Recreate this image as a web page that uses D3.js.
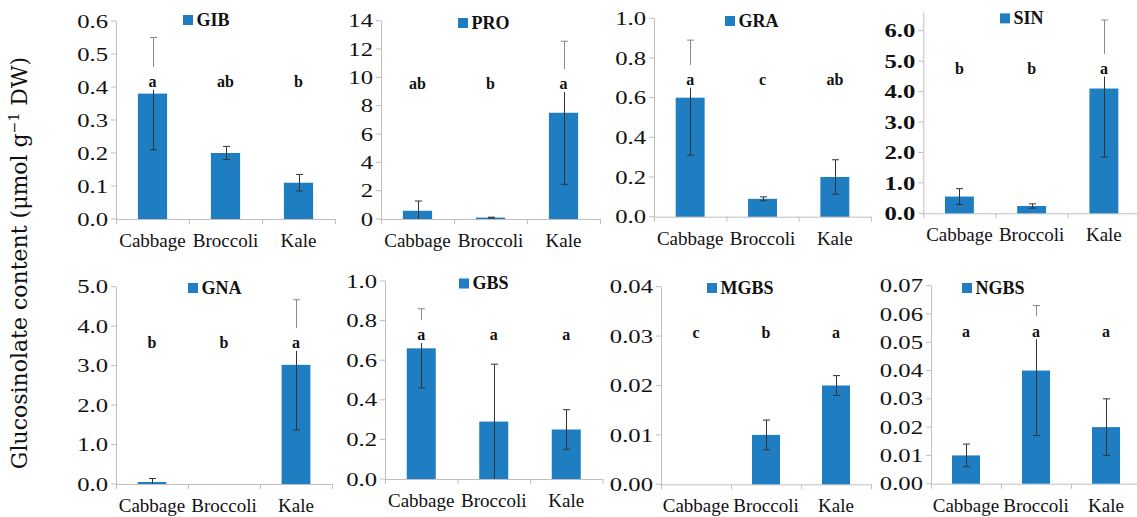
<!DOCTYPE html>
<html>
<head>
<meta charset="utf-8">
<script src="https://cdn.jsdelivr.net/npm/d3@7"></script>
<style>
  html, body { margin: 0; padding: 0; background: #fff; }
  svg { display: block; }
</style>
</head>
<body>
<svg id="chart" width="1137" height="517"></svg>
<script>
// ---------------- DATA ----------------
const categories = ["Cabbage", "Broccoli", "Kale"];
const panelNames = ["GIB", "PRO", "GRA", "SIN", "GNA", "GBS", "MGBS", "NGBS"];

const gibMeans = [0.38, 0.20, 0.11];
const gibErrors = [0.17, 0.02, 0.025];
const gibLetters = ["a", "ab", "b"];
const gibTicks = [0, 0.1, 0.2, 0.3, 0.4, 0.5, 0.6];

const proMeans = [0.58, 0.10, 7.5];
const proErrors = [0.69, 0.03, 5.05];
const proLetters = ["ab", "b", "a"];
const proTicks = [0, 2, 4, 6, 8, 10, 12, 14];

const graMeans = [0.60, 0.09, 0.20];
const graErrors = [0.29, 0.01, 0.087];
const graLetters = ["a", "c", "ab"];
const graTicks = [0, 0.2, 0.4, 0.6, 0.8, 1.0];

const sinMeans = [0.55, 0.24, 4.10];
const sinErrors = [0.26, 0.07, 2.25];
const sinLetters = ["b", "b", "a"];
const sinTicks = [0, 1, 2, 3, 4, 5, 6];

const gnaMeans = [0.05, 0, 3.02];
const gnaErrors = [0.09, 0, 1.65];
const gnaLetters = ["b", "b", "a"];
const gnaTicks = [0, 1, 2, 3, 4, 5];

const gbsMeans = [0.66, 0.29, 0.25];
const gbsErrors = [0.20, 0.29, 0.10];
const gbsLetters = ["a", "a", "a"];
const gbsTicks = [0, 0.2, 0.4, 0.6, 0.8, 1.0];

const mgbsMeans = [0, 0.010, 0.020];
const mgbsErrors = [0, 0.003, 0.002];
const mgbsLetters = ["c", "b", "a"];
const mgbsTicks = [0, 0.01, 0.02, 0.03, 0.04];

const ngbsMeans = [0.010, 0.040, 0.020];
const ngbsErrors = [0.004, 0.023, 0.010];
const ngbsLetters = ["a", "a", "a"];
const ngbsTicks = [0, 0.01, 0.02, 0.03, 0.04, 0.05, 0.06, 0.07];

// axis maxima and the level (in data units) at which the significance letters sit
const axisMax = [0.6, 14, 1.0, 6.6, 5, 1.0, 0.04, 0.07];
const letterLevels = [0.4, 9.16, 0.664, 4.58, 3.44, 0.70, 0.0297, 0.052];
const tickFormats = [".1f", "d", ".1f", ".1f", ".1f", ".1f", ".2f", ".2f"];

const yTitle = "Glucosinolate content (\u03bcmol g";
const yTitleSup = "\u22121";
const yTitleEnd = " DW)";

// ---------------- LAYOUT ----------------
const frames = [
  { x0: 116,   x1: 335,  y0: 219,   yTop: 21,    lx: 183,  ly: 15,   boldTicks: false },
  { x0: 381,   x1: 600,  y0: 219,   yTop: 20.7,  lx: 458,  ly: 18,   boldTicks: false },
  { x0: 654,   x1: 871,  y0: 216.7, yTop: 18.3,  lx: 725,  ly: 16,   boldTicks: false },
  { x0: 923.3, x1: 1140, y0: 213.3, yTop: 30.7,  lx: 1000, ly: 13.4, boldTicks: true },
  { x0: 116,   x1: 332,  y0: 484,   yTop: 286.7, lx: 188,  ly: 283,  boldTicks: false },
  { x0: 385,   x1: 602.5,y0: 479,   yTop: 281,   lx: 459,  ly: 278.5,boldTicks: false },
  { x0: 661,   x1: 871,  y0: 484.3, yTop: 286.7, lx: 707,  ly: 283,  boldTicks: false },
  { x0: 931,   x1: 1141, y0: 483.7, yTop: 285.7, lx: 962,  ly: 283,  boldTicks: false }
];

const panelData = [
  [gibMeans, gibErrors, gibLetters, gibTicks],
  [proMeans, proErrors, proLetters, proTicks],
  [graMeans, graErrors, graLetters, graTicks],
  [sinMeans, sinErrors, sinLetters, sinTicks],
  [gnaMeans, gnaErrors, gnaLetters, gnaTicks],
  [gbsMeans, gbsErrors, gbsLetters, gbsTicks],
  [mgbsMeans, mgbsErrors, mgbsLetters, mgbsTicks],
  [ngbsMeans, ngbsErrors, ngbsLetters, ngbsTicks]
];

const BAR = "#1f7dc1";
const AXIS = "#bfbfbf";
const SERIF = "'Liberation Serif', 'Times New Roman', serif";

const svg = d3.select("#chart");

panelNames.forEach((name, i) => {
  const f = frames[i];
  const [means, errs, letters, ticks] = panelData[i];
  const lastTick = ticks[ticks.length - 1];
  const y = d3.scaleLinear().domain([0, lastTick]).range([f.y0, f.yTop]);
  const x = d3.scaleBand().domain(categories).range([f.x0, f.x1])
    .paddingInner(0.6).paddingOuter(0.3);
  const step = x.step();
  const fmt = d3.format(tickFormats[i]);

  const g = svg.append("g");

  // y axis line
  g.append("line")
    .attr("x1", f.x0 + 0.5).attr("x2", f.x0 + 0.5)
    .attr("y1", y(0)).attr("y2", y(axisMax[i]))
    .attr("stroke", AXIS).attr("stroke-width", 1);
  // y ticks + labels
  ticks.forEach(t => {
    const ty = y(t);
    g.append("line")
      .attr("x1", f.x0 - 5).attr("x2", f.x0)
      .attr("y1", ty).attr("y2", ty)
      .attr("stroke", AXIS).attr("stroke-width", 1);
    g.append("text")
      .attr("transform", `translate(${f.x0 - 8},${ty}) scale(1.3,1)`)
      .attr("text-anchor", "end")
      .attr("dy", "0.35em")
      .attr("font-family", SERIF)
      .attr("font-size", 19)
      .attr("font-weight", f.boldTicks ? "bold" : "normal")
      .attr("fill", "#111")
      .text(fmt(t));
  });

  // x axis line and ticks at category boundaries
  g.append("line")
    .attr("x1", f.x0).attr("x2", f.x1)
    .attr("y1", y(0) + 0.5).attr("y2", y(0) + 0.5)
    .attr("stroke", AXIS).attr("stroke-width", 1);
  d3.range(categories.length + 1).forEach(k => {
    const tx = f.x0 + k * step;
    g.append("line")
      .attr("x1", tx + 0.5).attr("x2", tx + 0.5)
      .attr("y1", y(0)).attr("y2", y(0) + 5)
      .attr("stroke", AXIS).attr("stroke-width", 1);
  });
  // category labels
  categories.forEach(c => {
    g.append("text")
      .attr("x", x(c) + x.bandwidth() / 2)
      .attr("y", y(0) + 28)
      .attr("text-anchor", "middle")
      .attr("font-family", SERIF)
      .attr("font-size", 19)
      .attr("fill", "#111")
      .text(c);
  });

  // bars
  categories.forEach((c, j) => {
    if (means[j] <= 0) return;
    g.append("rect")
      .attr("x", x(c)).attr("width", x.bandwidth())
      .attr("y", y(means[j])).attr("height", y(0) - y(means[j]))
      .attr("fill", BAR);
  });

  // letters level
  const ly = y(letterLevels[i]);
  const boxTop = ly - 20, boxBottom = ly + 2.5;

  // error bars
  categories.forEach((c, j) => {
    if (errs[j] <= 0) return;
    const cx = Math.round(x(c) + x.bandwidth() / 2) + 0.5;
    const topV = means[j] + errs[j];
    const botV = Math.max(0, means[j] - errs[j]);
    const yt = y(topV), yb = y(botV);
    const dark = "#333", light = "#8a8a8a";
    if (yt < boxTop) {
      // segment above the letter box (appears lighter)
      g.append("line").attr("x1", cx).attr("x2", cx)
        .attr("y1", yt).attr("y2", Math.min(boxTop, yb))
        .attr("stroke", light).attr("stroke-width", 1);
      g.append("line").attr("x1", cx - 3.5).attr("x2", cx + 3.5)
        .attr("y1", yt).attr("y2", yt)
        .attr("stroke", light).attr("stroke-width", 1);
      if (yb > boxBottom) {
        g.append("line").attr("x1", cx).attr("x2", cx)
          .attr("y1", boxBottom).attr("y2", yb)
          .attr("stroke", dark).attr("stroke-width", 1);
      }
    } else {
      g.append("line").attr("x1", cx).attr("x2", cx)
        .attr("y1", yt).attr("y2", yb)
        .attr("stroke", dark).attr("stroke-width", 1);
      g.append("line").attr("x1", cx - 3.5).attr("x2", cx + 3.5)
        .attr("y1", yt).attr("y2", yt)
        .attr("stroke", dark).attr("stroke-width", 1);
    }
    if (means[j] - errs[j] > 0) {
      g.append("line").attr("x1", cx - 3.5).attr("x2", cx + 3.5)
        .attr("y1", yb).attr("y2", yb)
        .attr("stroke", dark).attr("stroke-width", 1);
    }
  });

  // significance letters with white backing box
  categories.forEach((c, j) => {
    const cx = x(c) + x.bandwidth() / 2;
    const w = letters[j].length * 9 + 8;
    g.append("rect")
      .attr("x", cx - w / 2).attr("y", boxTop)
      .attr("width", w).attr("height", boxBottom - boxTop)
      .attr("fill", "#fff");
    g.append("text")
      .attr("x", cx).attr("y", ly)
      .attr("text-anchor", "middle")
      .attr("font-family", SERIF)
      .attr("font-size", 16)
      .attr("font-weight", "bold")
      .attr("fill", "#111")
      .text(letters[j]);
  });

  // legend
  g.append("rect")
    .attr("x", f.lx).attr("y", f.ly)
    .attr("width", 10).attr("height", 10)
    .attr("fill", BAR);
  g.append("text")
    .attr("x", f.lx + 13.5).attr("y", f.ly + 10.5)
    .attr("font-family", SERIF)
    .attr("font-size", 18)
    .attr("font-weight", "bold")
    .attr("fill", "#111")
    .text(name);
});

// y axis title
const title = svg.append("text")
  .attr("transform", "translate(27,263) rotate(-90)")
  .attr("text-anchor", "middle")
  .attr("font-family", "'DejaVu Serif', serif")
  .attr("font-size", 22)
  .attr("fill", "#111");
title.append("tspan").text(yTitle);
title.append("tspan").attr("font-size", 14).attr("dy", -8).text(yTitleSup);
title.append("tspan").attr("dy", 8).text(yTitleEnd);
</script>
</body>
</html>
